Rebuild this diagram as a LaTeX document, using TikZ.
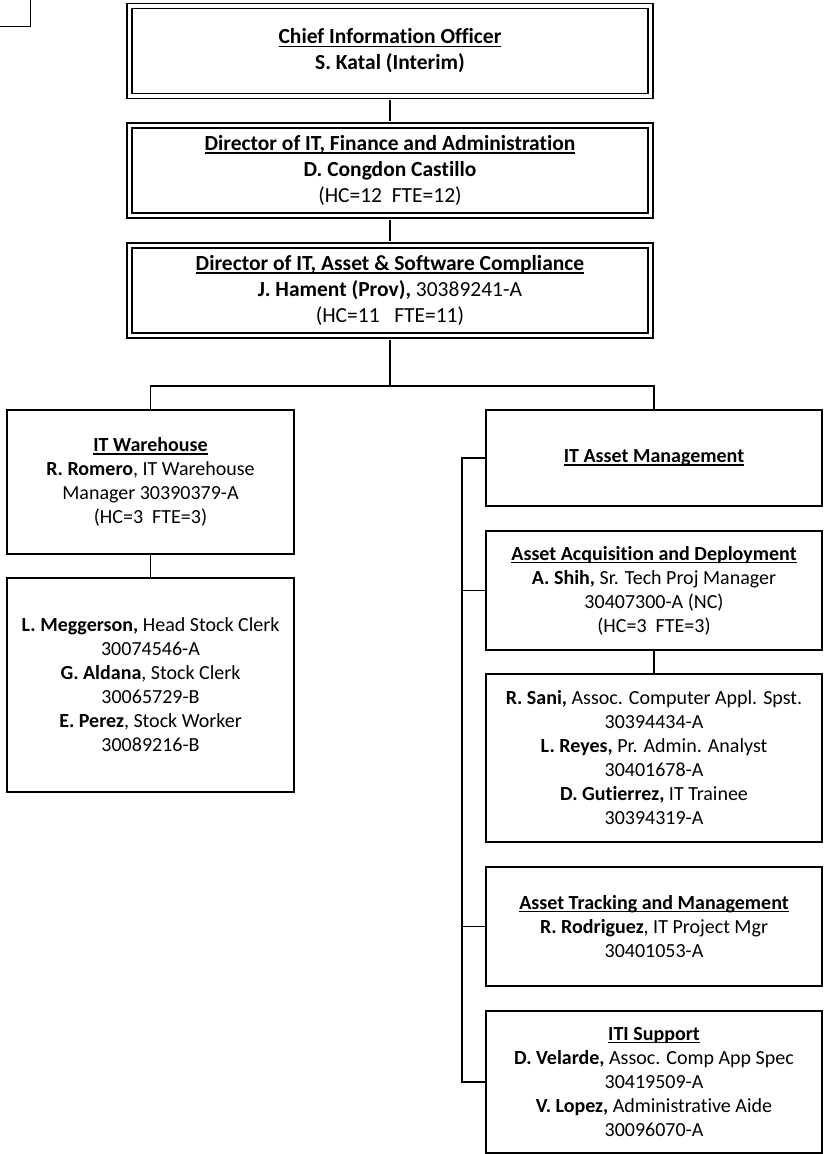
\documentclass[tikz,border=0pt]{standalone}
\usepackage{fontspec}
\setmainfont[Ligatures=NoCommon]{Carlito}
\usetikzlibrary{positioning}

% bold title with a fixed underline just below the baseline
\newcommand{\ttl}[1]{\textbf{\setbox0\hbox{#1}\rlap{\rule[-3pt]{\wd0}{1.3pt}}\box0}}

\begin{document}
\begin{tikzpicture}[x=1pt,y=-1pt,
    topbox/.style={draw, line width=1.7pt, double=white, double distance=3.3pt,
      minimum width=521pt, minimum height=90pt, inner sep=0pt, align=center,
      font=\fontsize{21.5}{26}\selectfont},
    unitbox/.style={draw, line width=1.5pt, minimum width=336pt, inner sep=0pt,
      align=center, font=\fontsize{20}{24}\selectfont},
    link/.style={line width=1.9pt}]
  \useasboundingbox (0,0) rectangle (824,1154);

  % cut-off box in the corner
  \draw[line width=1.6pt] (0,26.5) -| (30.5,0);

  % top of the chain
  \node[topbox] (cio) at (390,51)
    {\ttl{Chief Information Officer}\\ \textbf{S. Katal (Interim)}};
  \node[topbox] (dirfin) at (390,170.5)
    {\ttl{Director of IT, Finance and Administration}\\ \textbf{D. Congdon Castillo}\\ (HC=12\ \ FTE=12)};
  \node[topbox] (dirasset) at (390,290.5)
    {\ttl{Director of IT, Asset \& Software Compliance}\\ \textbf{J. Hament (Prov),} 30389241-A\\ (HC=11\ \ \ FTE=11)};

  % warehouse branch
  \node[unitbox, minimum width=287pt, minimum height=144pt] (wh) at (150.5,482)
    {\ttl{IT Warehouse}\\ \textbf{R. Romero}, IT Warehouse\\ Manager 30390379-A\\ (HC=3\ \ FTE=3)};
  \node[unitbox, minimum width=287pt, minimum height=214pt] (whstaff) at (150.5,685)
    {\textbf{L. Meggerson,} Head Stock Clerk\\ 30074546-A\\ \textbf{G. Aldana}, Stock Clerk\\ 30065729-B\\ \textbf{E. Perez}, Stock Worker\\ 30089216-B};

  % asset management branch
  \node[unitbox, minimum height=96pt] (itam) at (654,458) {\ttl{IT Asset Management}};
  \node[unitbox, minimum height=119pt] (acq) at (654,590.5)
    {\ttl{Asset Acquisition and Deployment}\\ \textbf{A. Shih,} Sr. Tech Proj Manager\\ 30407300-A (NC)\\ (HC=3\ \ FTE=3)};
  \node[unitbox, minimum height=168pt] (acqstaff) at (654,758)
    {\textbf{R. Sani,} Assoc. Computer Appl. Spst.\\ 30394434-A\\ \textbf{L. Reyes,} Pr. Admin. Analyst\\ 30401678-A\\ \textbf{D. Gutierrez,} IT Trainee\\ 30394319-A};
  \node[unitbox, minimum height=119pt] (track) at (654,926.5)
    {\ttl{Asset Tracking and Management}\\ \textbf{R. Rodriguez}, IT Project Mgr\\ 30401053-A};
  \node[unitbox, minimum height=142pt] (iti) at (654,1082)
    {\ttl{ITI Support}\\ \textbf{D. Velarde,} Assoc. Comp App Spec\\ 30419509-A\\ \textbf{V. Lopez,} Administrative Aide\\ 30096070-A};

  % connectors
  \coordinate (bus) at (390,386);
  \coordinate (spine) at (462,458);
  \draw[link, shorten <=3.35pt, shorten >=3.35pt] (cio.south) -- (dirfin.north);
  \draw[link, shorten <=3.35pt, shorten >=3.35pt] (dirfin.south) -- (dirasset.north);
  \draw[link, shorten <=3.35pt] (dirasset.south) -- (bus);
  \draw[link] (wh.north) |- (bus) -| (itam.north);
  \draw[link] (wh) -- (whstaff);
  \draw[link] (acq) -- (acqstaff);
  \draw[link] (itam.west) -| (spine |- iti.west) -- (iti.west);
  \draw[link] (acq.west) -- (spine |- acq.west);
  \draw[link] (track.west) -- (spine |- track.west);
\end{tikzpicture}
\end{document}
